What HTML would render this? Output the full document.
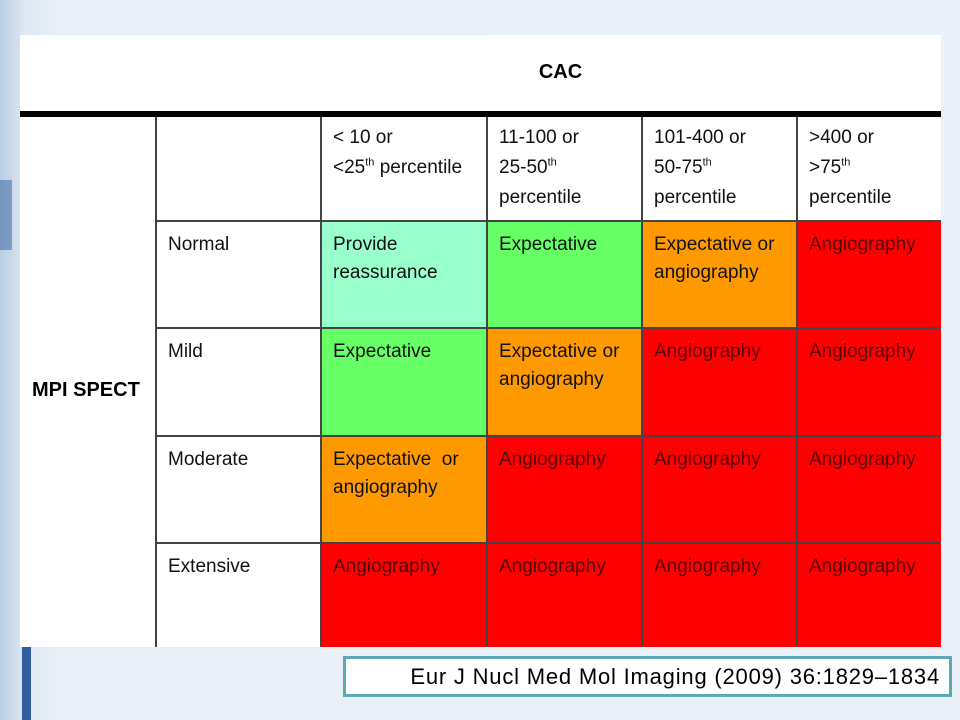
<!DOCTYPE html>
<html><head><meta charset="utf-8"><style>
body{margin:0;width:960px;height:720px;overflow:hidden;position:relative;font-family:"Liberation Sans",Arial,sans-serif;
background:linear-gradient(90deg,#b8cde4 0px,#dfe8f3 25px,#e8eff7 60px,#eaf0f7 100%);}
.bar{position:absolute;background:#2f5d9e;}
.t{position:absolute;left:20px;top:35px;width:921px;height:612px;background:#fff;}
.c{position:absolute;box-sizing:border-box;padding:10px 0 0 12px;font-size:19px;line-height:28px;color:#111;}
.r{background:#ff0000;color:#5a0000}
.o{background:#ff9900}
.g{background:#66ff66}
.m{background:#99ffcc}
.vl{position:absolute;width:2px;background:#444;}
.hl{position:absolute;height:2px;background:#444;}
sup{font-size:11px;line-height:0}
.h{line-height:30px;padding-top:6px}
</style></head><body>
<div class="bar" style="left:22px;top:640px;width:9px;height:80px;"></div>
<div class="bar" style="left:0;top:180px;width:12px;height:70px;opacity:.5"></div>
<div class="t">
<div style="position:absolute;top:26px;width:921px;text-align:center;font-weight:bold;font-size:20px;left:80px">CAC</div>
<div style="position:absolute;left:0;top:76px;width:921px;height:6px;background:#000"></div>
</div>
<div class="c h" style="left:321px;top:117px;width:166px;height:104px">&lt; 10 or<br>&lt;25<sup>th</sup> percentile</div>
<div class="c h" style="left:487px;top:117px;width:155px;height:104px">11-100 or<br>25-50<sup>th</sup><br>percentile</div>
<div class="c h" style="left:642px;top:117px;width:155px;height:104px">101-400 or<br>50-75<sup>th</sup><br>percentile</div>
<div class="c h" style="left:797px;top:117px;width:144px;height:104px">&gt;400 or<br>&gt;75<sup>th</sup><br>percentile</div>

<div class="c" style="left:156px;top:221px;width:165px;height:107px">Normal</div>
<div class="c m" style="left:321px;top:221px;width:166px;height:107px">Provide<br>reassurance</div>
<div class="c g" style="left:487px;top:221px;width:155px;height:107px">Expectative</div>
<div class="c o" style="left:642px;top:221px;width:155px;height:107px">Expectative or<br>angiography</div>
<div class="c r" style="left:797px;top:221px;width:144px;height:107px">Angiography</div>

<div class="c" style="left:156px;top:328px;width:165px;height:108px">Mild</div>
<div class="c g" style="left:321px;top:328px;width:166px;height:108px">Expectative</div>
<div class="c o" style="left:487px;top:328px;width:155px;height:108px">Expectative or<br>angiography</div>
<div class="c r" style="left:642px;top:328px;width:155px;height:108px">Angiography</div>
<div class="c r" style="left:797px;top:328px;width:144px;height:108px">Angiography</div>

<div class="c" style="left:156px;top:436px;width:165px;height:107px">Moderate</div>
<div class="c o" style="left:321px;top:436px;width:166px;height:107px">Expectative&nbsp; or<br>angiography</div>
<div class="c r" style="left:487px;top:436px;width:155px;height:107px">Angiography</div>
<div class="c r" style="left:642px;top:436px;width:155px;height:107px">Angiography</div>
<div class="c r" style="left:797px;top:436px;width:144px;height:107px">Angiography</div>

<div class="c" style="left:156px;top:543px;width:165px;height:104px">Extensive</div>
<div class="c r" style="left:321px;top:543px;width:166px;height:104px">Angiography</div>
<div class="c r" style="left:487px;top:543px;width:155px;height:104px">Angiography</div>
<div class="c r" style="left:642px;top:543px;width:155px;height:104px">Angiography</div>
<div class="c r" style="left:797px;top:543px;width:144px;height:104px">Angiography</div>

<div style="position:absolute;left:32px;top:379px;font-weight:bold;font-size:20px">MPI SPECT</div>

<div class="vl" style="left:155px;top:117px;height:530px"></div>
<div class="vl" style="left:320px;top:117px;height:530px"></div>
<div class="vl" style="left:486px;top:117px;height:530px"></div>
<div class="vl" style="left:641px;top:117px;height:530px"></div>
<div class="vl" style="left:796px;top:117px;height:530px"></div>
<div class="hl" style="left:156px;top:220px;width:785px"></div>
<div class="hl" style="left:156px;top:327px;width:785px"></div>
<div class="hl" style="left:156px;top:435px;width:785px"></div>
<div class="hl" style="left:156px;top:542px;width:785px"></div>

<div style="position:absolute;left:343px;top:656px;width:609px;height:41px;box-sizing:border-box;border:3px solid #5fa8b8;background:#fff;font-size:22px;letter-spacing:0.8px;line-height:35px;text-align:right;padding-right:9px;color:#000;white-space:nowrap">Eur J Nucl Med Mol Imaging (2009) 36:1829–1834</div>
</body></html>
